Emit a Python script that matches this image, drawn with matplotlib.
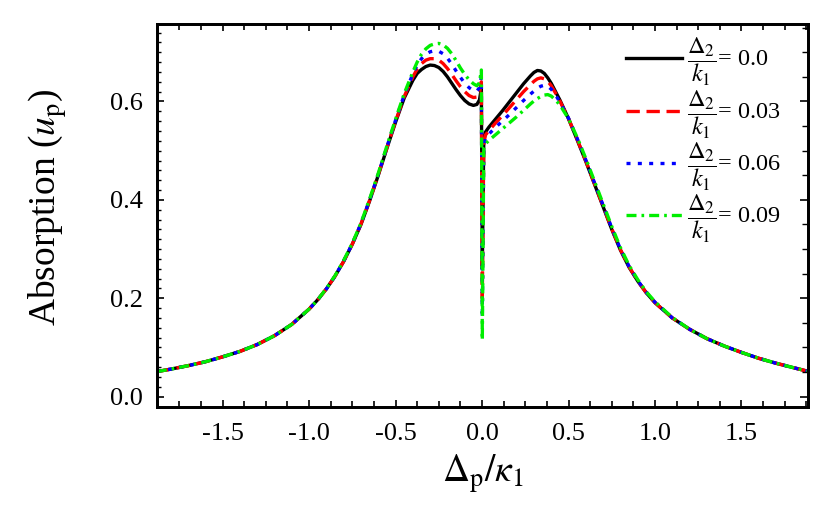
import matplotlib
matplotlib.use('Agg')
import matplotlib.pyplot as plt
from matplotlib.ticker import MultipleLocator

plt.rcParams['font.family'] = ['Liberation Serif', 'DejaVu Serif']
plt.rcParams['mathtext.fontset'] = 'stix'

# detuning grid (Delta_p / kappa_1)
x = [-1.88, -1.8, -1.7, -1.6, -1.5, -1.4, -1.3, -1.2, -1.1, -1.0, -0.95, -0.9, -0.85,
     -0.8, -0.75, -0.7, -0.65, -0.6, -0.55, -0.5, -0.45,
     -0.4, -0.375, -0.35, -0.325, -0.3, -0.275, -0.25, -0.225, -0.2, -0.175, -0.15,
     -0.125, -0.1, -0.075, -0.05, -0.03, -0.015, -0.004,
     0.0015,
     0.01, 0.02, 0.04, 0.08, 0.12, 0.16, 0.2, 0.24, 0.28,
     0.3, 0.32, 0.34, 0.36, 0.38, 0.4,
     0.425, 0.45, 0.5, 0.55, 0.6, 0.65, 0.7, 0.75, 0.8, 0.85, 0.9, 0.95, 1.0,
     1.1, 1.2, 1.3, 1.4, 1.5, 1.6, 1.7, 1.8, 1.88]

y_00 = [0.051, 0.056, 0.063, 0.071, 0.081, 0.092, 0.106, 0.124, 0.147, 0.178, 0.197, 0.219, 0.245,
        0.275, 0.310, 0.350, 0.398, 0.450, 0.505, 0.558, 0.607,
        0.643, 0.657, 0.665, 0.671, 0.674, 0.673, 0.669, 0.661, 0.650, 0.637, 0.624,
        0.612, 0.602, 0.595, 0.592, 0.594, 0.603, 0.627,
        0.26,
        0.520, 0.538, 0.548, 0.565, 0.582, 0.600, 0.618, 0.636, 0.652,
        0.659, 0.663, 0.662, 0.657, 0.648, 0.637,
        0.620, 0.603, 0.565, 0.522, 0.478, 0.432, 0.386, 0.340, 0.298, 0.263, 0.235, 0.211, 0.191,
        0.160, 0.137, 0.118, 0.103, 0.090, 0.078, 0.068, 0.059, 0.052]

y_03 = [0.051, 0.056, 0.063, 0.071, 0.081, 0.092, 0.106, 0.124, 0.147, 0.178, 0.197, 0.219, 0.245,
        0.275, 0.310, 0.351, 0.399, 0.451, 0.506, 0.560, 0.610,
        0.650, 0.666, 0.677, 0.684, 0.687, 0.687, 0.684, 0.677, 0.667, 0.655, 0.642,
        0.630, 0.620, 0.612, 0.608, 0.609, 0.617, 0.640,
        0.20,
        0.515, 0.532, 0.541, 0.557, 0.572, 0.588, 0.604, 0.620, 0.634,
        0.641, 0.646, 0.648, 0.646, 0.641, 0.632,
        0.617, 0.601, 0.565, 0.523, 0.479, 0.433, 0.387, 0.341, 0.299, 0.264, 0.235, 0.211, 0.191,
        0.160, 0.137, 0.118, 0.103, 0.090, 0.078, 0.068, 0.059, 0.052]

y_06 = [0.051, 0.056, 0.063, 0.071, 0.081, 0.092, 0.106, 0.124, 0.147, 0.178, 0.197, 0.219, 0.245,
        0.276, 0.311, 0.352, 0.400, 0.452, 0.508, 0.562, 0.613,
        0.656, 0.674, 0.687, 0.696, 0.701, 0.703, 0.702, 0.697, 0.688, 0.676, 0.662,
        0.649, 0.637, 0.628, 0.622, 0.621, 0.628, 0.650,
        0.16,
        0.510, 0.526, 0.534, 0.548, 0.561, 0.574, 0.588, 0.602, 0.615,
        0.621, 0.627, 0.631, 0.633, 0.631, 0.625,
        0.613, 0.599, 0.566, 0.525, 0.481, 0.435, 0.389, 0.343, 0.300, 0.265, 0.236, 0.212, 0.192,
        0.160, 0.137, 0.118, 0.103, 0.090, 0.078, 0.068, 0.059, 0.052]

y_09 = [0.051, 0.056, 0.063, 0.071, 0.081, 0.092, 0.106, 0.124, 0.147, 0.178, 0.197, 0.220, 0.246,
        0.277, 0.312, 0.353, 0.402, 0.454, 0.510, 0.564, 0.616,
        0.660, 0.680, 0.696, 0.707, 0.714, 0.717, 0.718, 0.715, 0.708, 0.697, 0.683,
        0.668, 0.655, 0.644, 0.636, 0.632, 0.638, 0.664,
        0.115,
        0.505, 0.514, 0.521, 0.533, 0.545, 0.557, 0.569, 0.582, 0.595,
        0.601, 0.606, 0.610, 0.613, 0.614, 0.611,
        0.603, 0.593, 0.565, 0.527, 0.484, 0.438, 0.392, 0.346, 0.303, 0.267, 0.238, 0.213, 0.193,
        0.161, 0.137, 0.118, 0.103, 0.090, 0.078, 0.068, 0.059, 0.052]

labels = [r'$\dfrac{\Delta_2}{k_1}$= 0.0', r'$\dfrac{\Delta_2}{k_1}$= 0.03',
          r'$\dfrac{\Delta_2}{k_1}$= 0.06', r'$\dfrac{\Delta_2}{k_1}$= 0.09']

xticks = [-1.5, -1.0, -0.5, 0.0, 0.5, 1.0, 1.5]
xticklabels = ['-1.5', '-1.0', '-0.5', '0.0', '0.5', '1.0', '1.5']
yticks = [0.0, 0.2, 0.4, 0.6]
yticklabels = ['0.0', '0.2', '0.4', '0.6']

fig = plt.figure(figsize=(8.3, 5.19), dpi=100)
ax = fig.add_axes([0.189, 0.2164, 0.7846, 0.7374])

lw = 2.4
ax.plot(x, y_00, color='black', lw=lw, ls='-', label=labels[0], solid_joinstyle='round')
ax.plot(x, y_03, color='#ff0000', lw=lw, dashes=(4, 2), label=labels[1])
ax.plot(x, y_06, color='#0000ff', lw=lw, dashes=(1.2, 2.2), label=labels[2])
ax.plot(x, y_09, color='#00ee00', lw=lw, dashes=(3, 1.5, 0.8, 1.5), label=labels[3])

ax.set_xlim(-1.88, 1.885)
ax.set_ylim(-0.0203, 0.7575)

ax.set_xticks(xticks)
ax.set_xticklabels(xticklabels)
ax.xaxis.set_minor_locator(MultipleLocator(0.125))
ax.set_yticks(yticks)
ax.set_yticklabels(yticklabels)
ax.yaxis.set_minor_locator(MultipleLocator(0.02))

ax.tick_params(axis='both', which='major', direction='in', length=5, width=1.2,
               labelsize=19, top=True, right=False)
ax.tick_params(axis='x', which='minor', direction='in', length=4, width=1.2, top=True)
ax.tick_params(axis='y', which='minor', direction='in', length=3, width=1.0, right=False)
ax.tick_params(axis='x', which='major', pad=12)
ax.tick_params(axis='y', which='major', pad=10)

ax2 = ax.twinx()
ax2.set_ylim(ax.get_ylim())
ax2.yaxis.set_major_locator(MultipleLocator(0.2))
ax2.yaxis.set_minor_locator(MultipleLocator(0.05))
ax2.tick_params(axis='y', which='major', direction='in', length=6, width=1.2, labelright=False)
ax2.tick_params(axis='y', which='minor', direction='in', length=4, width=1.0)

for sp in ax.spines.values():
    sp.set_linewidth(2.0)
for sp in ax2.spines.values():
    sp.set_linewidth(2.0)

ax.set_ylabel(r'Absorption ($u_{\mathrm{p}}$)', fontsize=27)
ax.yaxis.set_label_coords(-0.135, 0.52)
ax.set_xlabel(r'$\Delta_{\mathrm{p}}/\kappa_1$', fontsize=27)
ax.xaxis.set_label_coords(0.5, -0.12)

leg = ax.legend(loc='upper right', bbox_to_anchor=(0.977, 1.0), frameon=False, fontsize=17.5,
                handlelength=2.3, handletextpad=0.2, labelspacing=0.0, borderpad=0.0)

fig.savefig('out.png', dpi=100)
